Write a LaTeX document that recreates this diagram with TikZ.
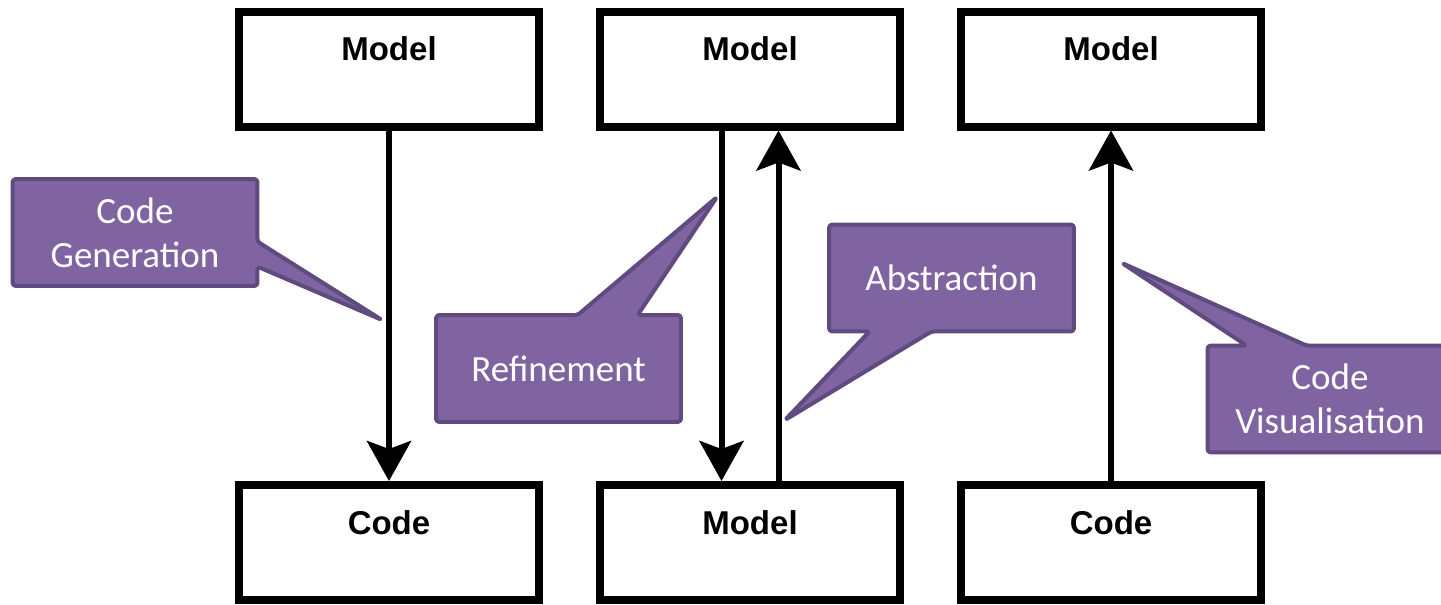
\documentclass[tikz,border=0pt]{standalone}
\usepackage{fontspec}
\setmainfont{Carlito}
\newfontfamily\boxfont{Liberation Sans}
\usetikzlibrary{arrows.meta,backgrounds}

\definecolor{notefill}{HTML}{8064A2}
\definecolor{noteline}{HTML}{5F4B7F}

\tikzset{
  level/.style={draw, line width=4pt, minimum width=150pt, minimum height=57.5pt,
    inner sep=0pt, font=\boxfont\bfseries\fontsize{16.5}{18}\selectfont,
    text height=12pt, text depth=20pt},
  note/.style={minimum width=122pt, minimum height=53pt, inner sep=0pt,
    align=center, text=white, font=\fontsize{18.5}{22}\selectfont},
  bubble/.style={fill=notefill, draw=noteline, line width=2pt,
    rounded corners=1.5pt, line join=round},
  trans/.style={line width=3pt, -{Stealth[length=20pt,width=22pt,inset=4pt]}}
}

\begin{document}
\begin{tikzpicture}[x=0.5pt, y=-0.5pt]
  \useasboundingbox (0,0) rectangle (1441,605);

  % upper row
  \node[level] (m1) at (389,69) {Model};
  \node[level] (m2) at (750,69) {Model};
  \node[level] (m3) at (1111,69) {Model};

  % lower row
  \node[level] (c1) at (389,542.5) {Code};
  \node[level] (m4) at (750,542.5) {Model};
  \node[level] (c3) at (1111,542.5) {Code};

  \draw[trans] (m1) -- (c1);
  \draw[trans] ([xshift=-14.25pt]m2.south) -- ([xshift=-14.25pt]m4.north);
  \draw[trans] ([xshift=14.25pt]m4.north) -- ([xshift=14.25pt]m2.south);
  \draw[trans] (c3) -- (m3);

  % callouts
  \node[note] (gen) at (135,232.5) {Code\\Generation};
  \node[note] (ref) at (558.5,368.5) {Refinement};
  \node[note] (abs) at (951.5,278) {Abstraction};
  \node[note] (vis) at (1330,399) {Code\\Visualisation};

  \coordinate (gentip) at (382,320);
  \coordinate (reftip) at (717,197);
  \coordinate (abstip) at (785,420);
  \coordinate (vistip) at (1122,263);

  \begin{scope}[on background layer]
    \draw[bubble] (gen.north west) -- (gen.north east) -- ([yshift=-31.25pt]gen.north east)
      -- (gentip) -- ([yshift=-43.75pt]gen.north east) -- (gen.south east) -- (gen.south west) -- cycle;
    \draw[bubble] (ref.south west) -- (ref.north west) -- ([xshift=70.75pt]ref.north west)
      -- (reftip) -- ([xshift=100.75pt]ref.north west) -- (ref.north east) -- (ref.south east) -- cycle;
    \draw[bubble] (abs.north west) -- (abs.north east) -- (abs.south east) -- ([xshift=51.25pt]abs.south west)
      -- (abstip) -- ([xshift=20.25pt]abs.south west) -- (abs.south west) -- cycle;
    \draw[bubble] (vis.south west) -- (vis.north west) -- ([xshift=19.5pt]vis.north west)
      -- (vistip) -- ([xshift=49.5pt]vis.north west) -- (vis.north east) -- (vis.south east) -- cycle;
  \end{scope}
\end{tikzpicture}
\end{document}
